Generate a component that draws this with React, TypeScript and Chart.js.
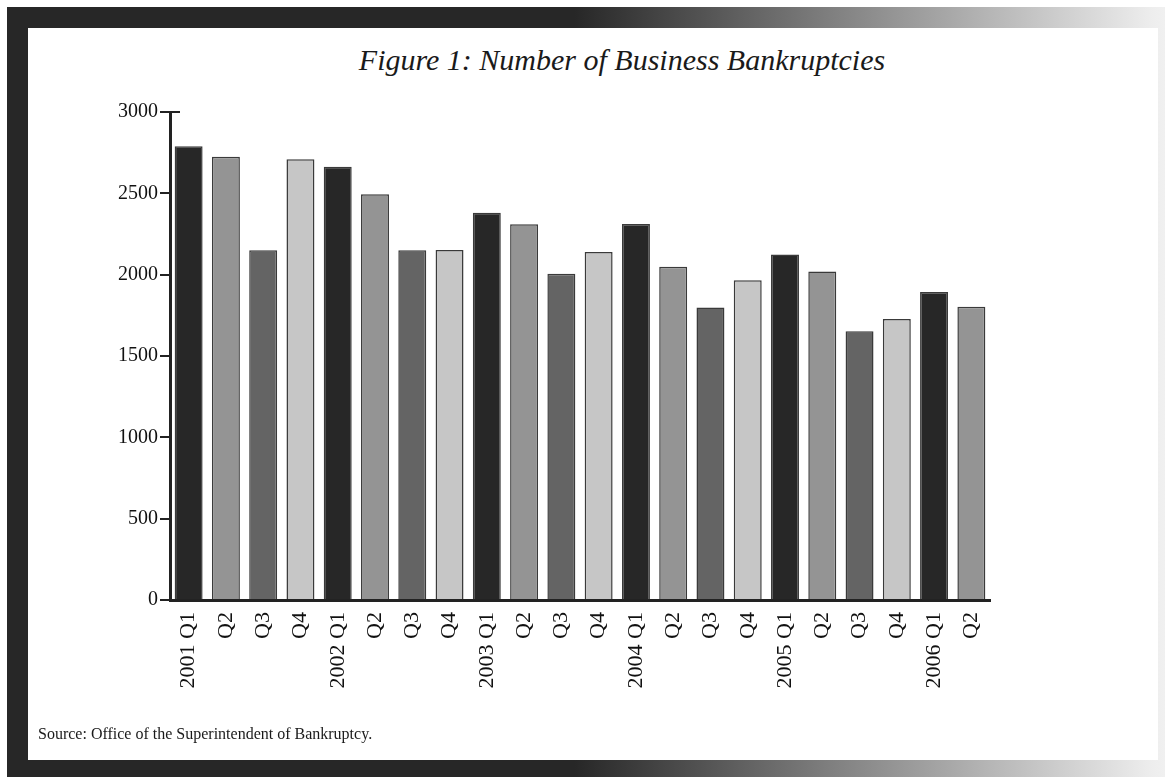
import React, { useEffect, useRef } from "react";
import { Chart, registerables } from "chart.js";

Chart.register(...registerables);

const categories: string[] = [
  "2001 Q1", "Q2", "Q3", "Q4",
  "2002 Q1", "Q2", "Q3", "Q4",
  "2003 Q1", "Q2", "Q3", "Q4",
  "2004 Q1", "Q2", "Q3", "Q4",
  "2005 Q1", "Q2", "Q3", "Q4",
  "2006 Q1", "Q2",
];

const bankruptcies: number[] = [
  2790, 2725, 2150, 2710,
  2663, 2495, 2150, 2152,
  2380, 2310, 2005, 2140,
  2311, 2048, 1798, 1966,
  2124, 2020, 1652, 1728,
  1894, 1802,
];

const quarterColors: string[] = ["#272727", "#949494", "#646464", "#c6c6c6"];

const yTickValues: number[] = [0, 500, 1000, 1500, 2000, 2500, 3000];

const titleText = "Figure 1: Number of Business Bankruptcies";
const sourceText = "Source: Office of the Superintendent of Bankruptcy.";

const SERIF = "'Liberation Serif', 'DejaVu Serif', serif";

const topTickPlugin = {
  id: "topTickExtension",
  afterDraw(chart: any) {
    const y = chart.scales.y;
    if (!y) return;
    const ctx = chart.ctx;
    const py = y.getPixelForValue(yTickValues[yTickValues.length - 1]);
    ctx.save();
    ctx.strokeStyle = "#222";
    ctx.lineWidth = 2;
    ctx.beginPath();
    ctx.moveTo(y.right, py);
    ctx.lineTo(y.right + 10, py);
    ctx.stroke();
    ctx.restore();
  },
};

export default function App() {
  const canvasRef = useRef<HTMLCanvasElement | null>(null);

  useEffect(() => {
    if (!canvasRef.current) return;
    const colors = categories.map((_, i) => quarterColors[i % 4]);
    const chart = new Chart(canvasRef.current, {
      type: "bar",
      data: {
        labels: categories,
        datasets: [
          {
            data: bankruptcies,
            backgroundColor: colors,
            borderColor: "#3a3a3a",
            borderWidth: 1.5,
            barPercentage: 0.75,
            categoryPercentage: 1,
          },
        ],
      },
      plugins: [topTickPlugin],
      options: {
        responsive: false,
        devicePixelRatio: 1,
        animation: false,
        layout: { padding: { left: 100, right: 175, top: 112, bottom: 77 } },
        plugins: {
          legend: { display: false },
          title: { display: false },
          tooltip: { enabled: false },
        },
        scales: {
          x: {
            afterFit: (scale: any) => {
              scale.height = 100;
            },
            grid: { display: true, drawOnChartArea: false, drawTicks: false },
            border: { display: true, color: "#222", width: 3 },
            ticks: {
              color: "#111",
              font: { family: SERIF, size: 22 },
              minRotation: 90,
              maxRotation: 90,
              autoSkip: false,
              padding: 12,
            },
          },
          y: {
            min: 0,
            max: 3000,
            afterFit: (scale: any) => {
              scale.width = 70;
            },
            afterBuildTicks: (scale: any) => {
              scale.ticks = yTickValues.map((v) => ({ value: v }));
            },
            grid: {
              display: true,
              drawOnChartArea: false,
              drawTicks: true,
              tickLength: 10,
              color: "#222",
              lineWidth: 2,
            },
            border: { display: true, color: "#222", width: 3 },
            ticks: {
              color: "#111",
              font: { family: SERIF, size: 20 },
              padding: 2,
              callback: (value: any) => String(value),
            },
          },
        },
      },
    });
    return () => chart.destroy();
  }, []);

  return (
    <div
      style={{
        position: "fixed",
        left: 0,
        top: 0,
        width: 1165,
        height: 777,
        background: "#ffffff",
        overflow: "hidden",
      }}
    >
      <div
        style={{
          position: "absolute",
          left: 7,
          top: 7,
          width: 1158,
          height: 770,
          background:
            "linear-gradient(to right, #272727 0%, #272727 49%, #eeeeee 99%, #f0f0f0 100%)",
        }}
      />
      <div
        style={{
          position: "absolute",
          left: 28,
          top: 28,
          width: 1130,
          height: 732,
          background: "#ffffff",
        }}
      />
      <div
        style={{
          position: "absolute",
          left: 0,
          top: 45,
          width: 1244,
          textAlign: "center",
          fontFamily: SERIF,
          fontStyle: "italic",
          fontSize: 30,
          lineHeight: "30px",
          color: "#1a1a1a",
          whiteSpace: "nowrap",
        }}
      >
        {titleText}
      </div>
      <canvas
        ref={canvasRef}
        width={1165}
        height={777}
        style={{ position: "absolute", left: 0, top: 0, width: 1165, height: 777 }}
      />
      <div
        style={{
          position: "absolute",
          left: 38,
          top: 726,
          fontFamily: SERIF,
          fontSize: 16,
          lineHeight: "16px",
          color: "#1a1a1a",
          whiteSpace: "nowrap",
        }}
      >
        {sourceText}
      </div>
    </div>
  );
}
